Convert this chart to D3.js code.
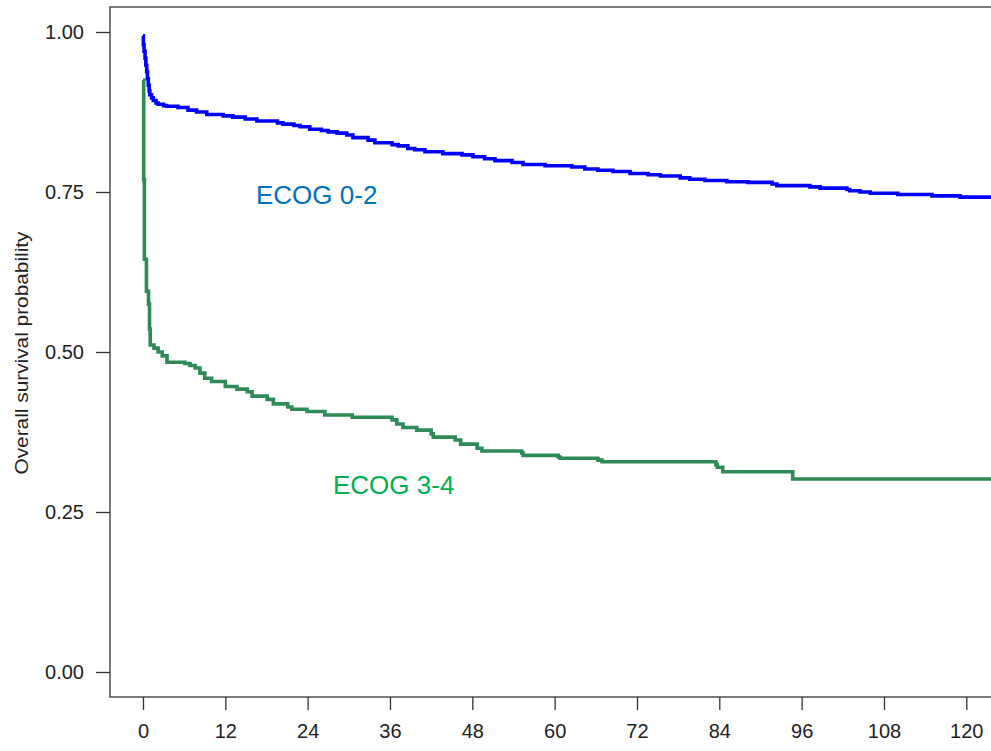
<!DOCTYPE html>
<html>
<head>
<meta charset="utf-8">
<script src="https://cdn.jsdelivr.net/npm/d3@7"></script>
<style>
  html, body { margin: 0; padding: 0; background: #fff; }
  svg { display: block; font-family: "Liberation Sans", Arial, sans-serif; }
</style>
</head>
<body>
<svg id="chart" width="991" height="751"></svg>
<script>
// Kaplan-Meier step estimates: [months, survival probability]
const ecog02 = [
  [0, 0.994], [0.05, 0.980], [0.15, 0.970], [0.3, 0.959], [0.42, 0.948], [0.54, 0.938],
  [0.65, 0.927], [0.77, 0.917], [0.9, 0.908], [1.0, 0.902], [1.25, 0.897], [1.5, 0.893],
  [1.9, 0.889], [2.2, 0.887], [3.0, 0.885], [3.45, 0.884], [5.1, 0.882], [6.56, 0.878],
  [7.8, 0.875], [9.3, 0.871], [11.7, 0.869], [13.1, 0.867], [14.9, 0.864], [16.6, 0.861],
  [19.6, 0.858], [20.4, 0.856], [22.0, 0.854], [22.9, 0.852], [24.3, 0.848], [26.0, 0.846],
  [27.0, 0.844], [28.3, 0.842], [29.7, 0.839], [30.6, 0.835], [32.8, 0.831], [33.8, 0.827],
  [36.3, 0.824], [37.2, 0.822], [38.6, 0.818], [39.6, 0.816], [41.1, 0.813], [43.7, 0.810],
  [46.5, 0.808], [48.1, 0.805], [49.8, 0.802], [51.3, 0.799], [53.8, 0.796], [55.4, 0.793],
  [58.6, 0.791], [62.5, 0.789], [64.4, 0.786], [66.3, 0.784], [68.5, 0.782], [71.0, 0.779],
  [73.6, 0.777], [75.4, 0.775], [78.3, 0.772], [79.7, 0.770], [81.9, 0.768], [85.1, 0.766],
  [88.2, 0.765], [91.7, 0.7625], [92.4, 0.760], [97.2, 0.758], [98.7, 0.756], [102.6, 0.754],
  [103.0, 0.752], [104.5, 0.750], [106.0, 0.748], [110.0, 0.746], [115.0, 0.744], [119.1, 0.742],
  [125.0, 0.742]
];

const ecog34 = [
  [0, 0.925], [0.1, 0.769], [0.2, 0.645], [0.5, 0.595], [0.8, 0.575], [0.95, 0.536],
  [1.05, 0.511], [1.6, 0.506], [2.2, 0.500], [2.8, 0.494], [3.5, 0.484], [6.1, 0.482],
  [6.85, 0.479], [7.6, 0.475], [8.3, 0.467], [9.0, 0.459], [10.0, 0.454], [12.0, 0.446],
  [13.7, 0.442], [15.2, 0.438], [15.9, 0.431], [18.1, 0.426], [19.0, 0.419], [21.1, 0.414],
  [21.7, 0.4105], [23.9, 0.407], [26.5, 0.4016], [30.5, 0.398], [36.3, 0.394], [37.0, 0.3875],
  [37.9, 0.382], [39.9, 0.378], [42.0, 0.372], [42.3, 0.367], [45.5, 0.3625], [46.3, 0.356],
  [48.7, 0.3495], [49.4, 0.3453], [55.2, 0.342], [55.4, 0.3385], [60.5, 0.336], [60.8, 0.334],
  [66.3, 0.331], [66.9, 0.3286], [83.5, 0.324], [83.7, 0.320], [84.5, 0.313], [94.7, 0.3016],
  [125.0, 0.3016]
];

const xTicks = [0, 12, 24, 36, 48, 60, 72, 84, 96, 108, 120];
const yTicks = [0, 0.25, 0.5, 0.75, 1.0];
const yTitle = "Overall survival probability";
const groupLabels = ["ECOG 0-2", "ECOG 3-4"];

const svg = d3.select("#chart");

// Plot region (R-style 4% padding around data range)
const x = d3.scaleLinear().domain([0, 120]).range([143, 966.3]);
const y = d3.scaleLinear().domain([0, 1]).range([672, 32]);
const box = { left: 110, right: 999, top: 7, bottom: 697 };

svg.append("defs").append("clipPath").attr("id", "plotclip")
  .append("rect")
  .attr("x", box.left).attr("y", box.top)
  .attr("width", box.right - box.left).attr("height", box.bottom - box.top);

// Frame
svg.append("rect")
  .attr("x", box.left).attr("y", box.top)
  .attr("width", box.right - box.left).attr("height", box.bottom - box.top)
  .attr("fill", "none").attr("stroke", "#333").attr("stroke-width", 1.3);

// Axes
const xAxis = d3.axisBottom(x).tickValues(xTicks).tickSize(13).tickPadding(14)
  .tickFormat(d3.format("d"));
const gx = svg.append("g").attr("transform", `translate(0,${box.bottom})`).call(xAxis);
gx.select(".domain").remove();

const yAxis = d3.axisLeft(y).tickValues(yTicks).tickSize(14).tickPadding(12)
  .tickFormat(d3.format(".2f"));
const gy = svg.append("g").attr("transform", `translate(${box.left},0)`).call(yAxis);
gy.select(".domain").remove();

svg.selectAll(".tick line").attr("stroke", "#333").attr("stroke-width", 1.3);
svg.selectAll(".tick text")
  .attr("fill", "#222")
  .style("font-family", "'Liberation Sans', Arial, sans-serif")
  .style("font-size", "20px");

// Y axis title
svg.append("text")
  .attr("transform", "translate(28,353) rotate(-90)")
  .attr("text-anchor", "middle")
  .attr("fill", "#222")
  .attr("textLength", 243)
  .attr("lengthAdjust", "spacingAndGlyphs")
  .style("font-size", "17.5px")
  .text(yTitle);

// Survival curves
const line = d3.line()
  .x(d => x(d[0]))
  .y(d => y(d[1]))
  .curve(d3.curveStepAfter);

const curves = svg.append("g").attr("clip-path", "url(#plotclip)");
curves.append("path")
  .datum(ecog34)
  .attr("d", line)
  .attr("fill", "none")
  .attr("stroke", "#2E8B57")
  .attr("stroke-width", 3.6);
curves.append("path")
  .datum(ecog02)
  .attr("d", line)
  .attr("fill", "none")
  .attr("stroke", "#0000FF")
  .attr("stroke-width", 3.6);

// Group labels
svg.append("text")
  .attr("x", 256).attr("y", 204)
  .attr("fill", "#0070C0")
  .style("font-size", "26px")
  .text(groupLabels[0]);
svg.append("text")
  .attr("x", 333).attr("y", 494)
  .attr("fill", "#00B050")
  .style("font-size", "26px")
  .text(groupLabels[1]);
</script>
</body>
</html>
